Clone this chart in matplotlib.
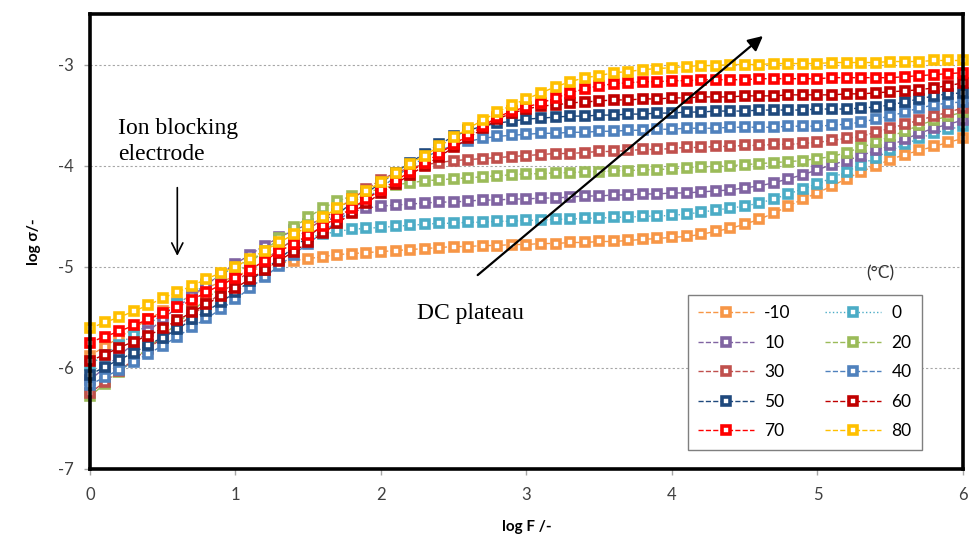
import numpy as np
import matplotlib
matplotlib.use("Agg")
import matplotlib.pyplot as plt

plt.rcParams["axes.unicode_minus"] = False

# log F from 0 to 6 in steps of 0.1
log_f = [i / 10 for i in range(61)]

temps = ["-10", "0", "10", "20", "30", "40", "50", "60", "70", "80"]

s_m10 = [-5.88, -5.79, -5.70, -5.61, -5.52, -5.44, -5.36, -5.28, -5.21, -5.15,
         -5.09, -5.04, -5.00, -4.97, -4.94, -4.92, -4.90, -4.88, -4.87, -4.86,
         -4.85, -4.84, -4.83, -4.82, -4.81, -4.80, -4.80, -4.79, -4.79, -4.78,
         -4.78, -4.77, -4.77, -4.76, -4.76, -4.75, -4.75, -4.74, -4.73, -4.72,
         -4.71, -4.70, -4.68, -4.65, -4.62, -4.58, -4.53, -4.47, -4.40, -4.33,
         -4.27, -4.20, -4.13, -4.06, -4.00, -3.94, -3.89, -3.85, -3.81, -3.77,
         -3.73]
s_0 = [-5.97, -5.87, -5.77, -5.67, -5.57, -5.47, -5.37, -5.27, -5.17, -5.08,
       -5.00, -4.93, -4.86, -4.80, -4.75, -4.71, -4.68, -4.65, -4.63, -4.62,
       -4.61, -4.60, -4.59, -4.58, -4.57, -4.57, -4.56, -4.56, -4.55, -4.55,
       -4.54, -4.54, -4.53, -4.53, -4.52, -4.52, -4.51, -4.51, -4.50, -4.50,
       -4.49, -4.48, -4.46, -4.44, -4.42, -4.40, -4.37, -4.33, -4.28, -4.23,
       -4.18, -4.12, -4.06, -3.99, -3.92, -3.85, -3.79, -3.73, -3.68, -3.64,
       -3.61]
s_10 = [-6.12, -6.00, -5.88, -5.76, -5.64, -5.52, -5.40, -5.29, -5.18, -5.07,
        -4.97, -4.88, -4.79, -4.71, -4.64, -4.58, -4.53, -4.49, -4.46, -4.42,
        -4.40, -4.39, -4.38, -4.37, -4.36, -4.36, -4.35, -4.34, -4.34, -4.33,
        -4.33, -4.32, -4.32, -4.31, -4.30, -4.30, -4.29, -4.29, -4.28, -4.28,
        -4.27, -4.27, -4.26, -4.25, -4.24, -4.22, -4.20, -4.17, -4.13, -4.09,
        -4.04, -3.99, -3.95, -3.90, -3.85, -3.80, -3.74, -3.68, -3.63, -3.59,
        -3.55]
s_20 = [-6.28, -6.16, -6.04, -5.92, -5.80, -5.68, -5.56, -5.44, -5.32, -5.20,
        -5.08, -4.96, -4.84, -4.72, -4.61, -4.51, -4.42, -4.35, -4.30, -4.26,
        -4.23, -4.19, -4.17, -4.15, -4.14, -4.13, -4.12, -4.11, -4.10, -4.09,
        -4.08, -4.08, -4.07, -4.07, -4.06, -4.06, -4.05, -4.05, -4.04, -4.04,
        -4.03, -4.02, -4.01, -4.01, -4.00, -3.99, -3.98, -3.97, -3.96, -3.95,
        -3.93, -3.91, -3.87, -3.82, -3.77, -3.71, -3.66, -3.60, -3.55, -3.51,
        -3.47]
s_30 = [-6.25, -6.14, -6.03, -5.92, -5.81, -5.70, -5.59, -5.48, -5.37, -5.26,
        -5.15, -5.04, -4.93, -4.83, -4.73, -4.63, -4.53, -4.43, -4.33, -4.23,
        -4.14, -4.07, -4.02, -3.99, -3.97, -3.95, -3.94, -3.93, -3.92, -3.91,
        -3.90, -3.89, -3.88, -3.88, -3.87, -3.86, -3.86, -3.85, -3.84, -3.84,
        -3.83, -3.82, -3.82, -3.81, -3.81, -3.80, -3.80, -3.79, -3.79, -3.78,
        -3.77, -3.75, -3.73, -3.71, -3.67, -3.63, -3.59, -3.55, -3.51, -3.47,
        -3.43]
s_40 = [-6.17, -6.09, -6.02, -5.94, -5.86, -5.78, -5.69, -5.60, -5.51, -5.42,
        -5.32, -5.21, -5.10, -4.99, -4.88, -4.77, -4.66, -4.55, -4.44, -4.33,
        -4.22, -4.11, -4.01, -3.92, -3.85, -3.80, -3.76, -3.73, -3.71, -3.70,
        -3.69, -3.68, -3.68, -3.67, -3.67, -3.66, -3.66, -3.65, -3.65, -3.64,
        -3.64, -3.63, -3.63, -3.63, -3.62, -3.62, -3.62, -3.62, -3.61, -3.61,
        -3.61, -3.60, -3.59, -3.57, -3.54, -3.51, -3.47, -3.43, -3.40, -3.38,
        -3.37]
s_50 = [-6.07, -5.99, -5.92, -5.85, -5.77, -5.70, -5.62, -5.52, -5.44, -5.35,
        -5.25, -5.14, -5.03, -4.92, -4.81, -4.70, -4.59, -4.48, -4.37, -4.27,
        -4.17, -4.07, -3.97, -3.88, -3.79, -3.71, -3.65, -3.61, -3.58, -3.56,
        -3.54, -3.53, -3.52, -3.51, -3.51, -3.50, -3.50, -3.49, -3.49, -3.48,
        -3.48, -3.47, -3.47, -3.46, -3.46, -3.46, -3.45, -3.45, -3.45, -3.45,
        -3.44, -3.44, -3.44, -3.43, -3.42, -3.40, -3.37, -3.34, -3.31, -3.29,
        -3.28]
s_60 = [-5.93, -5.87, -5.80, -5.74, -5.68, -5.61, -5.53, -5.45, -5.37, -5.29,
        -5.21, -5.12, -5.03, -4.94, -4.85, -4.76, -4.67, -4.57, -4.47, -4.37,
        -4.27, -4.18, -4.09, -4.00, -3.91, -3.82, -3.73, -3.63, -3.54, -3.48,
        -3.44, -3.41, -3.40, -3.38, -3.37, -3.36, -3.35, -3.35, -3.34, -3.34,
        -3.33, -3.33, -3.32, -3.32, -3.32, -3.31, -3.31, -3.31, -3.30, -3.30,
        -3.30, -3.30, -3.29, -3.29, -3.28, -3.27, -3.26, -3.25, -3.23, -3.21,
        -3.18]
s_70 = [-5.75, -5.69, -5.64, -5.58, -5.52, -5.46, -5.40, -5.33, -5.25, -5.18,
        -5.11, -5.03, -4.94, -4.85, -4.77, -4.69, -4.60, -4.51, -4.42, -4.33,
        -4.24, -4.15, -4.06, -3.97, -3.88, -3.79, -3.70, -3.61, -3.52, -3.46,
        -3.42, -3.38, -3.33, -3.28, -3.24, -3.21, -3.19, -3.18, -3.17, -3.17,
        -3.16, -3.16, -3.15, -3.15, -3.15, -3.15, -3.14, -3.14, -3.14, -3.14,
        -3.14, -3.13, -3.13, -3.13, -3.13, -3.13, -3.12, -3.11, -3.10, -3.09,
        -3.08]
s_80 = [-5.61, -5.55, -5.50, -5.44, -5.38, -5.31, -5.25, -5.19, -5.12, -5.06,
        -5.00, -4.92, -4.84, -4.76, -4.68, -4.60, -4.51, -4.42, -4.33, -4.25,
        -4.16, -4.07, -3.98, -3.90, -3.81, -3.72, -3.63, -3.55, -3.47, -3.40,
        -3.34, -3.28, -3.22, -3.17, -3.13, -3.11, -3.08, -3.07, -3.05, -3.04,
        -3.03, -3.02, -3.01, -3.01, -3.00, -3.00, -3.00, -2.99, -2.99, -2.99,
        -2.99, -2.98, -2.98, -2.98, -2.98, -2.97, -2.97, -2.97, -2.96, -2.96,
        -2.96]

series = [s_m10, s_0, s_10, s_20, s_30, s_40, s_50, s_60, s_70, s_80]
colors = ["#F79646", "#4BACC6", "#8064A2", "#9BBB59", "#C0504D",
          "#4F81BD", "#1F497D", "#C00000", "#FF0000", "#FFC000"]
styles = ["--", ":", "--", "--", "--", "--", "--", "--", "--", "--"]

fig = plt.figure(figsize=(9.71, 5.38), dpi=100)
ax = fig.add_axes([0.0927, 0.1283, 0.899, 0.8457])

handles = []
for s, c, ls, t in zip(series, colors, styles, temps):
    h, = ax.plot(log_f, s, linestyle=ls, color=c, linewidth=1.0,
                 marker="s", markersize=5.4, markeredgewidth=2.6,
                 markerfacecolor="white", markeredgecolor=c, label=t,
                 clip_on=False)
    handles.append(h)

ax.set_xlim(0, 6)
ax.set_ylim(-7, -2.5)
ax.set_xticks(range(0, 7))
ax.set_yticks([-7, -6, -5, -4, -3])
ax.yaxis.grid(True, linestyle=(0, (2, 2)), color="#A6A6A6", linewidth=0.8)
ax.set_axisbelow(True)

for sp in ax.spines.values():
    sp.set_linewidth(2.6)
    sp.set_color("black")

ax.tick_params(axis="both", direction="out", length=4, width=1, color="#A6A6A6",
               labelsize=12, labelcolor="#404040")
for lab in ax.get_xticklabels() + ax.get_yticklabels():
    lab.set_family("Lato")
ax.tick_params(axis="x", pad=9)
ax.tick_params(axis="y", pad=8)

ax.set_xlabel("log F /-", fontsize=11, fontweight="bold", family="Lato", labelpad=12)
ax.set_ylabel("log σ/-", fontsize=11, fontweight="bold", family="Lato", labelpad=12)

# legend: two columns, ordered row by row like the original
order = [0, 2, 4, 6, 8, 1, 3, 5, 7, 9]
leg = ax.legend([handles[i] for i in order], [temps[i] for i in order],
                ncol=2, loc="lower left", bbox_to_anchor=(0.685, 0.042, 0.268, 0.338),
                mode="expand", borderaxespad=0, numpoints=1, handlelength=3.2,
                handletextpad=0.6, labelspacing=0.78, columnspacing=1.0,
                borderpad=0.6, fancybox=False, edgecolor="#7F7F7F", framealpha=1,
                prop={"family": "Lato", "size": 12.5})
leg.get_frame().set_linewidth(1.0)

ax.text(5.43, -5.07, "(°C)", fontsize=12.5, family="Lato", color="#333333",
        ha="center", va="center")

ax.text(0.19, -3.53, "Ion blocking\nelectrode", fontsize=17, family="Liberation Serif",
        ha="left", va="top", linespacing=1.3)
ax.annotate("", xy=(0.6, -4.92), xytext=(0.6, -4.19),
            arrowprops=dict(arrowstyle="->", color="black", lw=1.2,
                            mutation_scale=20))

ax.text(2.25, -5.46, "DC plateau", fontsize=17, family="Liberation Serif",
        ha="left", va="center")
ax.annotate("", xy=(4.64, -2.70), xytext=(2.65, -5.10),
            arrowprops=dict(arrowstyle="-|>", color="black", lw=1.6,
                            mutation_scale=22))

fig.savefig("out.png", dpi=100)
